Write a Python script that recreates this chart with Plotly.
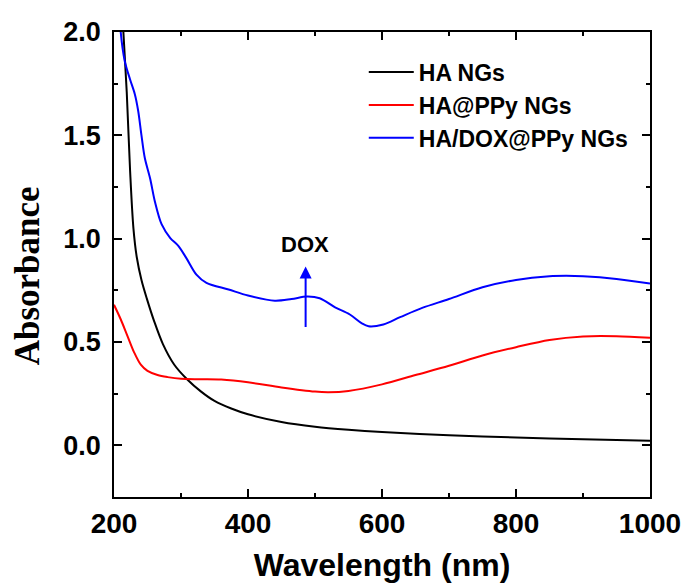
import plotly.graph_objects as go

# HA NGs (black)
ha_x = [203, 208, 214, 219, 224, 229, 234, 241, 249, 260, 273, 290, 309, 330, 350, 375, 400,
        450, 500, 550, 600, 700, 800, 900, 1000]
ha_y = [2.9, 2.4, 2.0, 1.71, 1.33, 1.05, 0.91, 0.80, 0.71, 0.60, 0.49, 0.39, 0.32, 0.26, 0.215,
        0.178, 0.15, 0.113, 0.09, 0.075, 0.064, 0.049, 0.038, 0.029, 0.022]

# HA@PPy NGs (red)
ppy_x = [200, 210, 220, 230, 240, 250, 265, 280, 300, 330, 360, 400, 450, 500, 520, 550, 600,
         650, 700, 750, 800, 850, 900, 950, 1000]
ppy_y = [0.68, 0.61, 0.53, 0.45, 0.39, 0.36, 0.34, 0.33, 0.322, 0.32, 0.318, 0.305, 0.28, 0.26,
         0.257, 0.263, 0.295, 0.34, 0.385, 0.435, 0.475, 0.51, 0.527, 0.528, 0.52]

# HA/DOX@PPy NGs (blue)
dox_x = [206, 210, 216, 224, 231, 236, 241, 246, 254, 261, 271, 284, 296, 308, 323, 338, 371,
         400, 440, 465, 488, 507, 530, 552, 570, 580, 602, 627, 660, 700, 750, 800, 850, 875,
         900, 950, 1000]
dox_y = [2.25, 2.0, 1.86, 1.77, 1.70, 1.62, 1.50, 1.39, 1.29, 1.18, 1.07, 1.003, 0.965, 0.906,
         0.826, 0.786, 0.754, 0.725, 0.70, 0.708, 0.72, 0.712, 0.668, 0.633, 0.59, 0.576, 0.585,
         0.62, 0.665, 0.708, 0.765, 0.80, 0.818, 0.82, 0.818, 0.805, 0.783]

series = [
    ("HA NGs", ha_x, ha_y, "black"),
    ("HA@PPy NGs", ppy_x, ppy_y, "red"),
    ("HA/DOX@PPy NGs", dox_x, dox_y, "blue"),
]

x_ticks = [200, 400, 600, 800, 1000]
y_ticks = [0.0, 0.5, 1.0, 1.5, 2.0]

fig = go.Figure()
for name, xs, ys, col in series:
    fig.add_trace(go.Scatter(x=xs, y=ys, mode="lines", name=name,
                             line=dict(color=col, width=2, shape="spline", smoothing=0.9)))

# DOX arrow
fig.add_annotation(x=486, y=0.865, ax=486, ay=0.565, xref="x", yref="y", axref="x", ayref="y",
                   showarrow=True, arrowhead=2, arrowsize=1.2, arrowwidth=2, arrowcolor="blue", text="")
fig.add_annotation(x=485, y=0.97, xref="x", yref="y", text="<b>DOX</b>", showarrow=False,
                   font=dict(family="Liberation Sans, Arial", size=22, color="black"))

# Y-axis title (placed slightly below plot centre as in the reference)
fig.add_annotation(x=-0.161, y=0.476, xref="paper", yref="paper", text="<b>Absorbance</b>",
                   textangle=-90, showarrow=False, xanchor="center", yanchor="middle",
                   font=dict(family="Liberation Serif, Times New Roman", size=35, color="black"))

axis_common = dict(showline=True, linecolor="black", linewidth=1.8, mirror="allticks",
                   ticks="inside", ticklen=8, tickwidth=1.8, tickcolor="black",
                   showgrid=False, zeroline=False, automargin=False)

fig.update_xaxes(range=[200, 1000], tickvals=x_ticks, ticktext=[str(v) for v in x_ticks],
                 minor=dict(ticks="inside", ticklen=4, tickwidth=1.8, dtick=100, tick0=200, tickcolor="black", showgrid=False),
                 tickfont=dict(family="Liberation Sans, Arial", size=28, color="black", weight="bold"),
                 title=dict(text="Wavelength (nm)", standoff=16,
                            font=dict(family="Liberation Sans, Arial", size=32, color="black", weight="bold")),
                 ticklabelstandoff=0,
                 **axis_common)
fig.update_yaxes(range=[-0.25, 2.0], tickvals=y_ticks, ticktext=[f"{v:.1f}" for v in y_ticks],
                 minor=dict(ticks="inside", ticklen=4, tickwidth=1.8, dtick=0.25, tick0=0, tickcolor="black", showgrid=False),
                 tickfont=dict(family="Liberation Sans, Arial", size=27, color="black", weight="bold"),
                 ticklabelstandoff=6,
                 **axis_common)

fig.update_layout(
    width=686, height=588,
    margin=dict(l=114, r=36, t=32, b=91),
    plot_bgcolor="white", paper_bgcolor="white",
    legend=dict(x=0.466, y=0.96, xanchor="left", yanchor="top", bgcolor="rgba(0,0,0,0)",
                font=dict(family="Liberation Sans, Arial", size=23, color="black", weight="bold"),
                itemwidth=45, tracegroupgap=0),
    showlegend=True,
)

fig.write_html("out.html", config={"displayModeBar": False},
               post_script="document.body.style.margin='0';document.body.style.padding='0';")
